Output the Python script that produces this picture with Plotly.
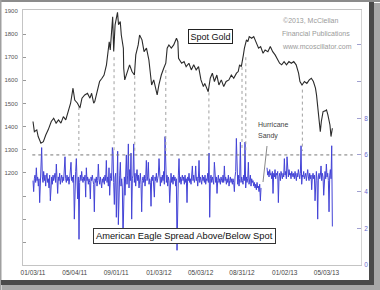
import pandas as pd
import plotly.graph_objects as go

# ---------------- data ----------------
gold_dates = [
    "2011-01-03", "2011-01-07", "2011-01-14", "2011-01-18", "2011-01-26", "2011-02-02", "2011-02-09", "2011-02-16",
    "2011-02-25", "2011-03-04", "2011-03-11", "2011-03-18", "2011-03-25", "2011-04-01", "2011-04-08", "2011-04-15",
    "2011-04-22", "2011-04-29", "2011-05-04", "2011-05-12", "2011-05-19", "2011-05-25", "2011-06-02", "2011-06-10",
    "2011-06-17", "2011-06-22", "2011-06-28", "2011-07-01", "2011-07-08", "2011-07-15", "2011-07-22", "2011-07-28",
    "2011-08-04", "2011-08-09", "2011-08-12", "2011-08-15", "2011-08-19", "2011-08-22", "2011-08-25", "2011-08-29",
    "2011-09-05", "2011-09-08", "2011-09-13", "2011-09-16", "2011-09-22", "2011-09-23", "2011-09-26", "2011-10-03",
    "2011-10-10", "2011-10-17", "2011-10-24", "2011-10-28", "2011-11-04", "2011-11-08", "2011-11-15", "2011-11-21",
    "2011-11-28", "2011-12-05", "2011-12-09", "2011-12-13", "2011-12-19", "2011-12-29", "2012-01-03", "2012-01-10",
    "2012-01-17", "2012-01-23", "2012-01-27", "2012-02-01", "2012-02-08", "2012-02-15", "2012-02-23", "2012-02-27",
    "2012-02-29", "2012-03-09", "2012-03-16", "2012-03-22", "2012-03-30", "2012-04-06", "2012-04-13", "2012-04-20",
    "2012-04-27", "2012-05-04", "2012-05-11", "2012-05-15", "2012-05-25", "2012-05-31", "2012-06-06", "2012-06-12",
    "2012-06-19", "2012-06-25", "2012-07-02", "2012-07-09", "2012-07-16", "2012-07-24", "2012-07-31", "2012-08-07",
    "2012-08-15", "2012-08-20", "2012-08-24", "2012-08-29", "2012-09-04", "2012-09-07", "2012-09-13", "2012-09-17",
    "2012-09-21", "2012-09-28", "2012-10-04", "2012-10-11", "2012-10-18", "2012-10-24", "2012-10-31", "2012-11-06",
    "2012-11-14", "2012-11-21", "2012-11-28", "2012-12-05", "2012-12-11", "2012-12-18", "2012-12-24", "2012-12-31",
    "2013-01-07", "2013-01-14", "2013-01-21", "2013-01-28", "2013-02-04", "2013-02-11", "2013-02-15", "2013-02-21",
    "2013-02-28", "2013-03-07", "2013-03-14", "2013-03-20", "2013-03-26", "2013-04-01", "2013-04-04", "2013-04-08",
    "2013-04-11", "2013-04-15", "2013-04-18", "2013-04-23", "2013-04-29", "2013-05-03", "2013-05-07", "2013-05-13",
    "2013-05-16", "2013-05-20",
]
gold_price = [
    1422, 1378, 1386, 1357, 1328, 1335, 1364, 1386,
    1422, 1436, 1415, 1429, 1415, 1443, 1429, 1465,
    1501, 1566, 1515, 1501, 1480, 1523, 1537, 1544,
    1523, 1544, 1501, 1508, 1559, 1595, 1609, 1623,
    1667, 1739, 1767, 1731, 1810, 1875, 1725, 1840,
    1894, 1840, 1854, 1796, 1739, 1652, 1602, 1638,
    1667, 1638, 1623, 1710, 1753, 1796, 1775, 1724,
    1739, 1688, 1638, 1580, 1602, 1537, 1580, 1623,
    1652, 1674, 1739, 1753, 1739, 1753, 1782, 1767,
    1695, 1674, 1681, 1659, 1674, 1645, 1667, 1645,
    1659, 1602, 1573, 1587, 1551, 1609, 1631, 1595,
    1623, 1580, 1602, 1573, 1595, 1602, 1623, 1609,
    1631, 1638, 1667, 1659, 1710, 1739, 1775, 1767,
    1789, 1782, 1789, 1767, 1739, 1746, 1717, 1731,
    1724, 1746, 1724, 1710, 1695, 1674, 1667, 1681,
    1667, 1681, 1674, 1681, 1667, 1631, 1595, 1580,
    1595, 1587, 1602, 1609, 1595, 1566, 1537, 1480,
    1422, 1378, 1422, 1465, 1468, 1472, 1451, 1407,
    1357, 1393,
]

spread_start = "2011-01-03"
spread_end = "2013-05-20"
spread_values = (
    [4.6, 4.0, 4.7, 4.9, 4.5, 5.3, 4.6, 4.8, 4.3, 4.7, 3.4, 4.5, 4.9, 6.4, 4.8]
    + [4.5, 5.1, 4.6, 4.9, 4.3, 4.8, 5.0, 4.5, 4.7, 4.2, 4.9, 3.5, 4.6, 4.8, 4.4]
    + [4.9, 4.6, 4.8, 5.0, 4.5, 5.5, 4.7, 3.9, 4.8, 4.6, 5.0, 4.4, 4.7, 4.9, 4.5]
    + [4.8, 4.6, 5.2, 5.9, 4.7, 4.5, 4.9, 4.6, 4.8, 4.4, 4.7, 5.0, 5.6, 4.6, 4.8]
    + [4.5, 4.9, 2.5, 4.6, 5.1, 5.8, 4.7, 3.6, 4.8, 1.4, 4.5, 4.9, 4.6, 5.1, 4.7]
    + [4.5, 4.8, 4.6, 4.9, 3.7, 5.3, 4.6, 4.8, 4.4, 4.7, 4.5, 3.6, 4.8, 4.6, 4.9]
    + [4.6, 4.4, 2.9, 4.7, 4.5, 4.8, 4.3, 4.6, 5.5, 4.7, 4.4, 4.8, 4.5, 4.2, 4.7]
    + [4.5, 4.8, 4.4, 4.9, 4.6, 5.7, 4.5, 4.8, 4.3, 5.3, 3.8, 4.7, 5.0, 4.6, 6.4]
    + [6.2, 4.5, 3.3, 4.8, 5.0, 2.6, 4.4, 6.2, 2.2, 4.6, 4.9, 5.6, 4.3, 4.7, 4.2]
    + [1.4, 4.5, 4.8, 3.8, 5.0, 6.0, 4.4, 4.9, 6.6, 4.2, 5.2, 4.6, 6.1, 2.5, 4.7]
    + [4.9, 6.6, 4.5, 5.0, 4.3, 4.8, 5.2, 4.6, 4.9, 4.2, 4.7, 5.0, 4.4, 2.9, 4.6]
    + [4.8, 4.5, 4.9, 4.3, 4.7, 5.7, 4.6, 4.8, 5.6, 4.4, 4.7, 4.5, 3.2, 4.8, 4.6]
    + [4.9, 4.4, 3.7, 4.8, 4.6, 5.0, 4.5, 4.7, 4.9, 5.8, 4.6, 4.3, 4.8, 4.5, 4.9]
    + [4.6, 5.1, 4.4, 7.0, 4.7, 4.5, 4.9, 4.3, 4.8, 4.6, 3.4, 4.7, 5.0, 4.5, 4.8]
    + [4.4, 4.9, 4.6, 4.8, 4.3, 4.7, 0.8, 4.6, 4.9, 5.8, 4.5, 4.8, 4.4, 4.7, 4.9]
    + [4.6, 4.8, 4.4, 4.9, 4.5, 4.7, 3.4, 4.8, 4.6, 5.0, 4.5, 4.7, 4.4, 4.8, 5.4]
    + [4.6, 4.9, 4.5, 4.7, 5.4, 4.6, 4.8, 4.3, 4.7, 5.7, 4.5, 4.8, 4.6, 4.4, 4.9]
    + [4.6, 4.8, 4.5, 4.9, 4.4, 4.7, 4.6, 5.0, 4.5, 6.1, 2.6, 4.7, 4.9, 4.5, 4.8]
    + [4.6, 4.4, 5.6, 4.7, 4.5, 4.8, 3.9, 4.6, 4.9, 4.5, 4.7, 4.4, 4.8, 4.6, 4.5]
    + [4.9, 4.5, 5.4, 4.6, 4.8, 4.4, 4.7, 4.5, 4.9, 4.3, 4.6, 4.8, 4.5, 4.7, 4.4]
    + [4.7, 4.5, 4.0, 4.8, 5.1, 6.9, 4.6, 4.4, 4.9, 4.3, 4.7, 6.7, 4.5, 4.8, 4.6]
    + [4.4, 4.9, 4.6, 6.7, 4.2, 4.8, 4.5, 4.7, 5.6, 4.4, 4.6, 4.9, 4.3, 4.7, 4.5]
    + [4.6, 4.3, 4.5, 4.2, 4.4, 4.1, 4.5, 4.2, 4.3, 4.0, 4.4, 3.5, 4.2]
    + [None, None, None, None, None, None, None, None]
    + [5.3, 4.9, 5.1, 4.8, 5.2, 4.9, 5.0, 4.7, 5.1]
    + [3.9, 5.0, 4.8, 5.2, 4.7, 5.0, 4.9, 5.1, 3.4, 4.8, 5.0, 4.6, 5.1, 4.9, 4.7]
    + [5.0, 4.8, 5.8, 4.9, 5.1, 4.7, 5.9, 5.0, 4.8, 5.2, 4.9, 5.0, 4.7, 5.1, 4.9]
    + [4.8, 5.0, 4.7, 5.1, 4.9, 4.6, 5.0, 4.8, 5.2, 4.9, 4.7, 5.0, 6.5, 4.4, 4.9]
    + [4.8, 5.1, 4.7, 4.9, 5.0, 4.6, 4.9, 5.2, 4.8, 4.6, 5.0, 4.7, 4.9, 4.1, 4.8]
    + [5.0, 4.7, 4.9, 3.5, 4.8, 5.1, 4.6, 2.5, 4.8, 5.0, 4.7, 4.9, 5.4, 4.6, 5.0]
    + [4.8, 3.8, 4.9, 5.1, 4.7, 5.5, 4.8, 5.0, 4.6, 2.9, 4.9, 5.2, 4.7, 6.5, 2.1]
)

# dotted connectors (date, gold level where the line starts)
event_dates = ["2011-05-16", "2011-08-26", "2011-10-25", "2012-01-23",
               "2012-05-27", "2012-08-31", "2012-09-11", "2013-02-22"]
event_gold = [1485, 1700, 1620, 1645, 1548, 1658, 1700, 1560]
event_floor = 1295
spread_ref_level = 6

x_tick_dates = ["2011-01-03", "2011-05-04", "2011-09-01", "2012-01-03",
                "2012-05-03", "2012-08-31", "2013-01-02", "2013-05-03"]
x_tick_text = ["01/03/11", "05/04/11", "09/01/11", "01/03/12",
               "05/03/12", "08/31/12", "01/02/13", "05/03/13"]
left_ticks = [900, 1000, 1100, 1200, 1300, 1400, 1500, 1600, 1700, 1800, 1900]
left_text = ["", "", "", "1200", "1300", "1400", "1500", "1600", "1700", "1800", "1900"]
right_ticks = [0, 2, 4, 6, 8, 10, 12]
right_text = ["0", "2", "4", "6", "8", "", ""]

# ---------------- figure ----------------
W, H = 380, 290
ML, MR, MT, MB = 23, 19, 10, 25
PW, PH = W - ML - MR, H - MT - MB

def px(x):
    return (x - ML) / PW

def py(y):
    return (H - MB - y) / PH

SANS = "Liberation Sans, Arial, sans-serif"

spread_dates = pd.date_range(spread_start, spread_end, periods=len(spread_values))

fig = go.Figure()
fig.add_trace(go.Scatter(
    x=spread_dates, y=spread_values, yaxis="y2", mode="lines",
    line=dict(color="#4343d6", width=1), connectgaps=False, hoverinfo="skip"))
fig.add_trace(go.Scatter(
    x=pd.to_datetime(gold_dates), y=gold_price, mode="lines",
    line=dict(color="#2b2b2b", width=1.1), hoverinfo="skip"))

shapes = []
for d, g in zip(event_dates, event_gold):
    shapes.append(dict(type="line", xref="x", yref="y", x0=d, x1=d, y0=g, y1=event_floor,
                       line=dict(color="#a0a0a0", width=1, dash="dot")))
shapes.append(dict(type="line", xref="x", yref="y2", x0="2011-01-01", x1="2013-07-18",
                   y0=spread_ref_level, y1=spread_ref_level,
                   line=dict(color="#777777", width=1, dash="dot")))
# hurricane pointer
shapes.append(dict(type="line", xref="paper", yref="paper",
                   x0=px(267), y0=py(146), x1=px(263), y1=py(182),
                   line=dict(color="#888888", width=1)))
# picture frame / shadow
frame = [
    (0, 0, 380, 2, "#8c8c8c"),
    (0, 0, 1.5, 290, "#a0a0a0"),
    (369, 2, 374, 284, "#4a4a4a"),
    (374, 3, 380, 290, "#a8a8a8"),
    (1, 280, 374, 285, "#4a4a4a"),
    (2, 285, 380, 290, "#a8a8a8"),
]
for x0, y0, x1, y1, c in frame:
    shapes.append(dict(type="rect", xref="paper", yref="paper",
                       x0=px(x0), x1=px(x1), y0=py(y1), y1=py(y0),
                       line=dict(width=0), fillcolor=c, layer="above"))

annotations = [
    dict(text="Spot Gold", xref="paper", yref="paper", x=px(210), y=py(29.5),
         showarrow=False, font=dict(family=SANS, size=9, color="#111"),
         bordercolor="#222", borderwidth=1, borderpad=1.5, bgcolor="white"),
    dict(text="American Eagle Spread Above/Below Spot", xref="paper", yref="paper",
         x=px(275.5), y=py(244), showarrow=False,
         font=dict(family=SANS, size=9.3, color="#111"),
         bordercolor="#333", borderwidth=1, borderpad=2, bgcolor="white"),
    dict(text="©2013, McClellan", xref="paper", yref="paper", x=px(281), y=py(15),
         xanchor="left", showarrow=False, font=dict(family=SANS, size=7, color="#9a9a9a")),
    dict(text="Financial Publications", xref="paper", yref="paper", x=px(280), y=py(28),
         xanchor="left", showarrow=False, font=dict(family=SANS, size=7, color="#9a9a9a")),
    dict(text="www.mcoscillator.com", xref="paper", yref="paper", x=px(280), y=py(41),
         xanchor="left", showarrow=False, font=dict(family=SANS, size=7, color="#9a9a9a")),
    dict(text="Hurricane", xref="paper", yref="paper", x=px(256), y=py(125),
         xanchor="left", showarrow=False, font=dict(family=SANS, size=7, color="#444")),
    dict(text="Sandy", xref="paper", yref="paper", x=px(256), y=py(136),
         xanchor="left", showarrow=False, font=dict(family=SANS, size=7, color="#444")),
]

fig.update_layout(
    template="none",
    width=W, height=H, margin=dict(l=ML, r=MR, t=MT, b=MB, pad=0, autoexpand=False),
    paper_bgcolor="white", plot_bgcolor="white", showlegend=False,
    shapes=shapes, annotations=annotations,
    xaxis=dict(type="date", range=["2010-12-05", "2013-08-11"], automargin=False,
               tickvals=x_tick_dates, ticktext=x_tick_text, ticks="",
               showgrid=False, zeroline=False, showline=True, linecolor="#c4c4c4",
               linewidth=1, mirror=True, ticklabelstandoff=1,
               tickfont=dict(family=SANS, size=6.5, color="#444")),
    yaxis=dict(range=[802, 1904], tickvals=left_ticks, ticktext=left_text, automargin=False,
               ticks="inside", ticklen=3, tickcolor="#999", showgrid=False,
               zeroline=False, showline=True, linecolor="#c4c4c4", linewidth=1,
               ticklabelstandoff=3, tickfont=dict(family=SANS, size=6, color="#555")),
    yaxis2=dict(range=[0, 13.9], overlaying="y", side="right", automargin=False,
                tickvals=right_ticks, ticktext=right_text, ticks="inside", ticklen=4,
                tickcolor="#a0a0d0", showgrid=False, zeroline=False, showline=True,
                linecolor="#d4d4d4", linewidth=1, ticklabelstandoff=1,
                tickfont=dict(family=SANS, size=6.5, color="#6b6bd0")),
)

fig.write_html("out.html")
